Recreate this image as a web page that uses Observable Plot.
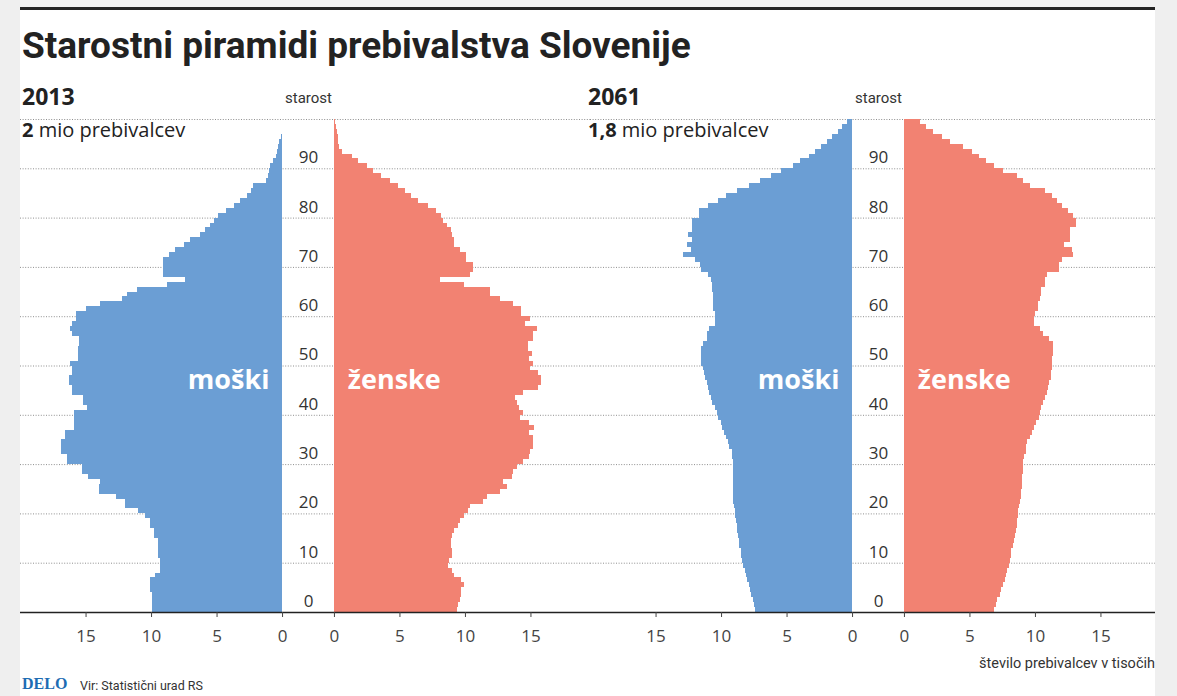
<!DOCTYPE html>
<html>
<head>
<meta charset="utf-8">
<script src="https://cdn.jsdelivr.net/npm/d3@7"></script>
<script src="https://cdn.jsdelivr.net/npm/@observablehq/plot@0.6"></script>
<style>
html,body{margin:0;padding:0;background:#efefef;}
#page{position:relative;width:1177px;height:696px;overflow:hidden;background:#efefef;}
#card{position:absolute;left:20px;top:10px;width:1135px;height:686px;background:#fff;}
#rule{position:absolute;left:20px;top:7px;width:1135px;height:3px;background:#222;}
.t{position:absolute;white-space:nowrap;line-height:1;color:#222;}
#title{left:22px;top:24px;font:700 37px Roboto,sans-serif;color:#222;}
.year{font:700 23px "Open Sans",sans-serif;top:80px;}
.pop{font:400 20px "Open Sans",sans-serif;top:116px;}
.pop b{font-weight:700;}
#unit{right:22px;top:655px;font:400 14.5px Roboto,sans-serif;color:#333;}
#delo{left:22px;top:675px;font:700 16px "Liberation Serif",serif;color:#1d6cb3;}
#vir{left:80px;top:678px;font:400 12.5px Roboto,sans-serif;color:#333;}
.panel{position:absolute;top:80px;}
</style>
</head>
<body>
<div id="page">
  <div id="card"></div>
  <div id="rule"></div>
  <div class="t" id="title">Starostni piramidi prebivalstva Slovenije</div>
  <div class="t year" style="left:22px">2013</div>
  <div class="t pop" style="left:22px"><b>2</b> mio prebivalcev</div>
  <div class="t year" style="left:588px">2061</div>
  <div class="t pop" style="left:588px"><b>1,8</b> mio prebivalcev</div>
  <div class="panel" id="p2013" style="left:20px"></div>
  <div class="panel" id="p2061" style="left:590px"></div>
  <div class="t" id="unit">število prebivalcev v tisočih</div>
  <div class="t" id="delo">DELO</div>
  <div class="t" id="vir">Vir: Statistični urad RS</div>
</div>
<script>
// ---- data (thousands of inhabitants per single year of age, ages 0..99) ----
const ages = d3.range(0, 100);
const sexes = ["moški", "ženske"];
const years = ["2013", "2061"];
const ageTicks = [0, 10, 20, 30, 40, 50, 60, 70, 80, 90];
const gridAges = [10, 20, 30, 40, 50, 60, 70, 80, 90, 100];
const xTickValues = [15, 10, 5, 0];

const male2013 = [9.9, 9.9, 9.9, 9.9, 10.1, 10.1, 10.1, 9.7, 9.3, 9.3,
  9.3, 9.5, 9.5, 9.5, 9.5, 9.8, 9.8, 10.1, 10.1, 10.5,
  11.0, 12.0, 12.0, 12.7, 14.0, 14.0, 13.9, 14.8, 15.3, 15.3,
  16.4, 16.4, 16.9, 16.9, 16.9, 16.6, 16.6, 15.9, 15.9, 15.9,
  15.9, 14.9, 15.2, 15.2, 16.0, 16.0, 16.3, 16.3, 16.0, 16.0,
  16.2, 15.6, 15.6, 15.6, 15.5, 15.5, 16.0, 16.2, 16.0, 15.7,
  15.7, 15.0, 13.9, 12.2, 11.8, 11.1, 8.8, 7.4, 9.1, 9.1,
  9.1, 9.1, 8.6, 8.2, 7.5, 7.0, 6.3, 5.9, 5.5, 5.2,
  4.9, 4.3, 3.7, 3.2, 2.7, 2.4, 2.2, 1.2, 1.1, 1.0,
  0.9, 0.7, 0.5, 0.4, 0.3, 0.2, 0.1, 0, 0, 0];
const female2013 = [9.4, 9.5, 9.6, 9.7, 9.7, 9.9, 9.7, 9.2, 9.0, 8.7,
  8.8, 9.0, 9.0, 8.9, 8.9, 9.0, 9.2, 9.5, 9.6, 9.9,
  10.2, 10.4, 11.4, 11.7, 12.7, 13.2, 12.9, 13.6, 13.7, 14.0,
  14.4, 14.9, 15.0, 15.2, 15.2, 15.2, 14.9, 15.3, 14.9, 14.2,
  14.4, 14.1, 14.0, 13.8, 14.4, 15.6, 15.8, 15.8, 15.6, 15.0,
  15.2, 14.9, 15.1, 14.8, 14.8, 15.2, 15.2, 15.5, 14.6, 15.0,
  14.3, 14.3, 13.7, 12.7, 11.9, 11.9, 9.9, 8.1, 10.4, 10.6,
  10.6, 10.1, 10.1, 9.6, 9.2, 9.2, 9.0, 8.9, 8.6, 8.3,
  8.2, 7.8, 7.2, 6.4, 5.9, 5.4, 4.9, 4.3, 3.6, 3.0,
  2.5, 1.8, 1.4, 0.6, 0.4, 0.3, 0.3, 0.2, 0.15, 0.1];
const male2061 = [7.4, 7.5, 7.6, 7.7, 7.8, 7.9, 8.0, 8.1, 8.2, 8.3,
  8.4, 8.45, 8.5, 8.6, 8.65, 8.7, 8.75, 8.8, 8.85, 8.9,
  8.9, 9.0, 9.1, 9.1, 9.1, 9.1, 9.1, 9.1, 9.1, 9.1,
  9.1, 9.15, 9.2, 9.4, 9.5, 9.6, 9.8, 9.9, 10.0, 10.2,
  10.3, 10.5, 10.7, 10.8, 10.9, 11.0, 11.1, 11.2, 11.3, 11.4,
  11.5, 11.5, 11.5, 11.5, 11.4, 11.1, 11.1, 10.9, 10.5, 10.5,
  10.5, 10.6, 10.6, 10.6, 10.6, 10.7, 10.7, 10.8, 11.0, 11.5,
  11.6, 12.0, 12.9, 12.3, 12.6, 12.2, 12.5, 12.2, 12.2, 12.2,
  11.7, 11.7, 11.0, 10.2, 9.6, 8.8, 7.9, 7.0, 6.2, 5.4,
  4.5, 4.0, 3.3, 2.8, 2.4, 1.9, 1.5, 1.1, 0.8, 0.4];
const female2061 = [6.9, 7.0, 7.1, 7.3, 7.4, 7.6, 7.7, 7.8, 7.9, 8.0,
  8.1, 8.15, 8.2, 8.3, 8.4, 8.5, 8.55, 8.6, 8.65, 8.7,
  8.7, 8.8, 8.85, 8.9, 8.95, 9.0, 9.0, 9.05, 9.1, 9.1,
  9.1, 9.2, 9.3, 9.3, 9.4, 9.6, 9.8, 9.9, 10.1, 10.3,
  10.4, 10.5, 10.6, 10.8, 10.9, 11.0, 11.1, 11.2, 11.2, 11.3,
  11.3, 11.3, 11.4, 11.4, 11.4, 11.1, 10.6, 10.4, 9.9, 9.9,
  10.0, 10.2, 10.2, 10.4, 10.5, 10.5, 10.8, 10.8, 10.9, 11.8,
  11.8, 12.1, 12.9, 12.8, 12.2, 12.7, 12.7, 12.7, 13.1, 13.1,
  12.9, 12.5, 12.1, 11.7, 11.3, 10.8, 9.6, 9.1, 8.6, 7.6,
  6.9, 6.3, 5.7, 5.2, 4.5, 3.5, 2.9, 2.2, 1.7, 1.2];

const colors = ["#6b9ed4", "#f28272"];

// ---- layout helpers ----
const G = 1.98;        // half gap (in thousands) between the two halves, holds the age labels
const PX = 13.1;       // pixels per thousand
const LEFT = 288;      // pixel position of the centre line inside each panel

function panel(male, female, width) {
  const rows = [];
  ages.forEach((a, i) => {
    rows.push({age: a, sex: sexes[0], v: male[i]});
    rows.push({age: a, sex: sexes[1], v: female[i]});
  });
  const tickPos = [...xTickValues.map(v => -G - v), ...xTickValues.slice().reverse().map(v => G + v)];
  return Plot.plot({
    width,
    height: 600,
    marginTop: 39,
    marginBottom: 68,
    marginLeft: 0,
    marginRight: 0,
    style: {fontFamily: "'Open Sans', sans-serif", fontSize: "17px", background: "transparent", overflow: "visible"},
    x: {domain: [-LEFT / PX, (width - LEFT) / PX]},
    y: {domain: [0, 100], axis: null},
    color: {domain: sexes, range: colors},
    marks: [
      Plot.ruleY(gridAges, {stroke: "#8f8f8f", strokeWidth: 1, strokeDasharray: "1,1.6"}),
      Plot.rectX(rows, {
        x1: d => d.sex === sexes[0] ? -G : G,
        x2: d => d.sex === sexes[0] ? -G - d.v : G + d.v,
        y1: d => d.age,
        y2: d => d.age + 1,
        fill: "sex",
        shapeRendering: "crispEdges"
      }),
      Plot.text(ageTicks, {x: () => 0, y: d => d, dy: -11, text: d => String(d), fill: "#333", fontSize: 17}),
      Plot.text(["starost"], {x: () => 0, y: () => 100, dy: -21, text: d => d, fill: "#333", fontSize: 15, fontFamily: "Roboto, sans-serif"}),
      Plot.text(sexes, {
        x: d => d === sexes[0] ? -6.1 : 6.55,
        y: () => 47,
        text: d => d,
        fill: "white",
        fontSize: 27,
        fontWeight: 700
      }),
      Plot.ruleY([0], {stroke: "#222", strokeWidth: 1.5}),
      Plot.axisX({
        ticks: tickPos,
        tickFormat: d => String(Math.round(Math.abs(d) - G)),
        tickSize: 5,
        tickPadding: 12,
        stroke: "#444",
        fill: "#444",
        label: null
      })
    ]
  });
}

document.getElementById("p2013").append(panel(male2013, female2013, 570));
document.getElementById("p2061").append(panel(male2061, female2061, 565));
</script>
</body>
</html>
